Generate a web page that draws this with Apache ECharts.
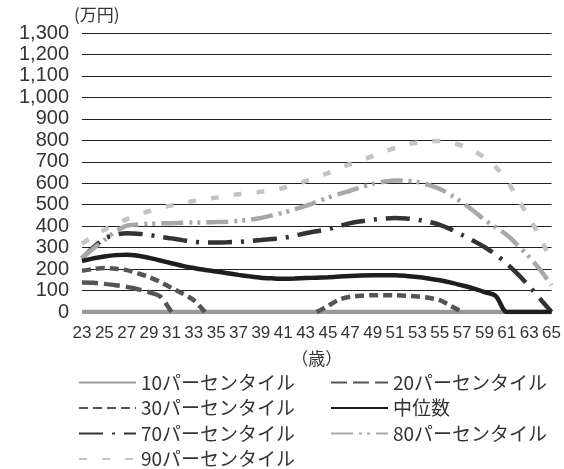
<!DOCTYPE html>
<html>
<head>
<meta charset="utf-8">
<script src="https://cdn.jsdelivr.net/npm/echarts@6/dist/echarts.min.js"></script>
<style>
  html, body { margin: 0; padding: 0; background: #fff; }
  #chart { width: 564px; height: 469px; }
</style>
</head>
<body>
<div id="chart"></div>
<script>
  // 年齢 23〜65
  const ages = ["23","24","25","26","27","28","29","30","31","32","33","34","35","36","37","38","39","40","41","42","43","44","45","46","47","48","49","50","51","52","53","54","55","56","57","58","59","60","61","62","63","64","65"];

  const p10 = [0,0,0,0,0,0,0,0,0,0,0,0,0,0,0,0,0,0,0,0,0,0,0,0,0,0,0,0,0,0,0,0,0,0,0,0,0,0,0,0,0,0,0];
  const p20 = [137,136,131,125,117,106,92,72,0,null,null,null,null,null,null,null,null,null,null,null,null,null,null,null,null,null,null,null,null,null,null,null,null,null,null,null,null,null,null,null,null,null,null];
  const p30 = [192,200,205,202,195,180,163,140,113,86,55,0,null,null,null,null,null,null,null,null,null,0,28,58,71,76,78,78,78,76,72,66,55,28,0,null,null,null,null,null,null,null,null];
  const median = [237,250,259,265,267,262,252,240,227,215,205,196,189,181,173,166,160,157,155,156,158,160,162,165,168,170,171,171,171,168,163,156,148,137,124,110,93,75,0,0,0,0,0];
  const p70 = [250,300,342,360,367,365,359,350,343,335,327,324,324,325,327,331,335,340,345,355,367,376,386,400,414,423,430,435,438,436,430,420,406,385,359,332,303,268,225,175,120,60,0];
  const p80 = [252,295,335,375,402,408,411,413,414,416,417,418,419,421,425,430,438,450,463,478,494,513,533,550,565,582,597,607,613,612,606,592,573,545,510,472,430,395,359,310,256,195,125];
  const p90 = [319,352,383,410,433,452,470,485,497,508,517,525,533,541,549,555,560,568,578,592,610,628,647,668,690,708,726,746,765,780,790,796,797,790,775,752,720,675,615,525,440,345,235];

  const numFont = "'Liberation Sans', Arial, sans-serif";
  const jpFont = "'Noto Sans CJK JP', sans-serif";

  const line = (name, data, color, width, dash, z) => ({
    name: name,
    type: "line",
    data: data,
    symbol: "none",
    smooth: 0.3,
    z: z,
    lineStyle: { color: color, width: width, type: dash, cap: "butt" },
    itemStyle: { color: color },
  });

  const legendBase = {
    orient: "vertical",
    top: 373,
    height: 110,
    padding: 0,
    itemWidth: 57,
    itemHeight: 14,
    itemGap: 6.5,
    itemStyle: { opacity: 0 },
    textStyle: { fontFamily: jpFont, fontSize: 19, color: "#333", lineHeight: 19 },
  };

  const myChart = echarts.init(document.getElementById("chart"));
  const option = {
    animation: false,
    grid: { left: 82, right: 9, top: 33, bottom: 157 },
    legend: [
      Object.assign({}, legendBase, {
        data: ["10パーセンタイル", "30パーセンタイル", "70パーセンタイル", "90パーセンタイル"],
        left: 78,
      }),
      Object.assign({}, legendBase, {
        data: ["20パーセンタイル", "中位数", "80パーセンタイル"],
        left: 330,
      }),
    ],
    xAxis: {
      type: "category",
      data: ages,
      boundaryGap: false,
      name: "（歳）",
      nameLocation: "middle",
      nameGap: 38,
      nameTextStyle: { fontFamily: jpFont, fontSize: 17, color: "#333" },
      axisLine: { show: false },
      axisTick: { show: false },
      axisLabel: {
        interval: 1,
        margin: 13,
        fontFamily: numFont,
        fontSize: 17,
        color: "#333",
      },
      splitLine: { show: false },
    },
    yAxis: {
      type: "value",
      min: 0,
      max: 1300,
      interval: 100,
      name: "(万円)",
      nameLocation: "end",
      nameGap: 6,
      nameTextStyle: { fontFamily: jpFont, fontSize: 17, color: "#333", align: "left", padding: [0, 0, 0, -8] },
      axisLine: { show: false },
      axisTick: { show: false },
      axisLabel: {
        margin: 13,
        fontFamily: numFont,
        fontSize: 20,
        color: "#333",
        formatter: (v) => v.toLocaleString("en-US"),
      },
      splitLine: { show: true, lineStyle: { color: "#222", width: 1 } },
    },
    series: [
      line("10パーセンタイル", p10, "#9a9a9a", 4.5, "solid", 2),
      line("20パーセンタイル", p20, "#555", 4.5, [16, 6], 3),
      line("30パーセンタイル", p30, "#555", 4.5, [9, 5], 3),
      line("中位数", median, "#1e1e1e", 4.5, "solid", 4),
      line("70パーセンタイル", p70, "#333", 4.5, [24, 9, 3, 9], 3),
      line("80パーセンタイル", p80, "#a8a8a8", 4.5, [22, 6, 3, 5, 3, 6], 3),
      line("90パーセンタイル", p90, "#c4c4c4", 4.5, [8, 15], 3),
    ],
  };
  myChart.setOption(option);
</script>
</body>
</html>
